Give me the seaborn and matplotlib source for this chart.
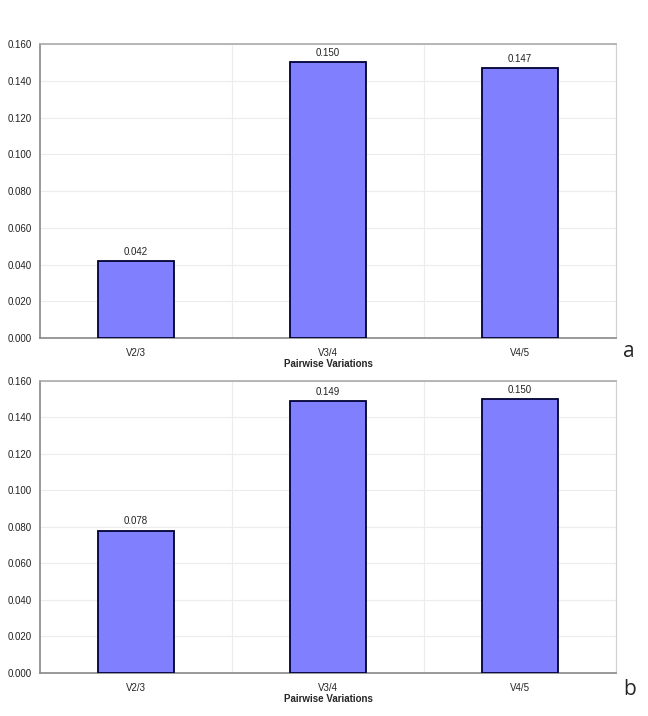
import numpy as np
import pandas as pd
from matplotlib import pyplot as plt
import seaborn as sns

# %% Data
cats = ["V2/3", "V3/4", "V4/5"]
vals_a = [0.042, 0.150, 0.147]
vals_b = [0.078, 0.149, 0.150]
yticks = np.arange(0, 0.161, 0.02)

sns.set_style("white")
plt.rcParams["font.family"] = ["Liberation Sans", "DejaVu Sans"]

fig = plt.figure(figsize=(6.48, 7.16), dpi=100)
axA = fig.add_axes([0.0617, 0.5279, 0.8889, 0.4106])
axB = fig.add_axes([0.0617, 0.0601, 0.8889, 0.4078])


def panel(ax, vals, letter, ly):
    df = pd.DataFrame({"cat": cats, "val": vals})
    sns.barplot(data=df, x="cat", y="val", ax=ax, width=0.4,
                color="#8080ff", saturation=1, edgecolor="#000033",
                linewidth=1.3, zorder=3)
    ax.set_xlim(-0.5, 2.5)
    ax.set_ylim(0, 0.16)
    ax.set_yticks(yticks)
    ax.set_yticklabels(["%.3f" % t for t in yticks], fontsize=7, color="#222222")
    ax.set_xticks([0, 1, 2])
    ax.set_xticklabels(cats, fontsize=7, color="#222222")
    ax.set_xticks([0.5, 1.5, 2.5], minor=True)
    ax.tick_params(axis="x", which="major", length=0, pad=7)
    ax.tick_params(axis="x", which="minor", length=4, color="#888888", direction="out")
    ax.tick_params(axis="y", length=4, color="#888888", direction="out", pad=2)
    ax.yaxis.grid(True, color="#ececec", linewidth=0.8, zorder=0)
    ax.xaxis.grid(True, which="minor", color="#ececec", linewidth=0.8, zorder=0)
    ax.set_axisbelow(True)
    for s in ["left", "bottom"]:
        ax.spines[s].set_color("#888888")
        ax.spines[s].set_linewidth(1.2)
    ax.spines["top"].set_color("#aaaaaa")
    ax.spines["top"].set_linewidth(1.2)
    ax.spines["right"].set_color("#d0d0d0")
    ax.spines["right"].set_linewidth(0.8)
    for i, v in enumerate(vals):
        ax.annotate("%.3f" % v, (i, v), xytext=(0, 3), textcoords="offset points",
                    ha="center", va="bottom", fontsize=7, color="#222222")
    ax.set_xlabel("Pairwise Variations", fontsize=7, fontweight="bold", labelpad=1)
    ax.set_ylabel("")
    ax.text(1.013, ly, letter, transform=ax.transAxes, fontsize=15,
            family=["Open Sans", "DejaVu Sans"], ha="left", va="center")


panel(axA, vals_a, "a", -0.045)
panel(axB, vals_b, "b", -0.058)

plt.savefig("out.png", dpi=100)
